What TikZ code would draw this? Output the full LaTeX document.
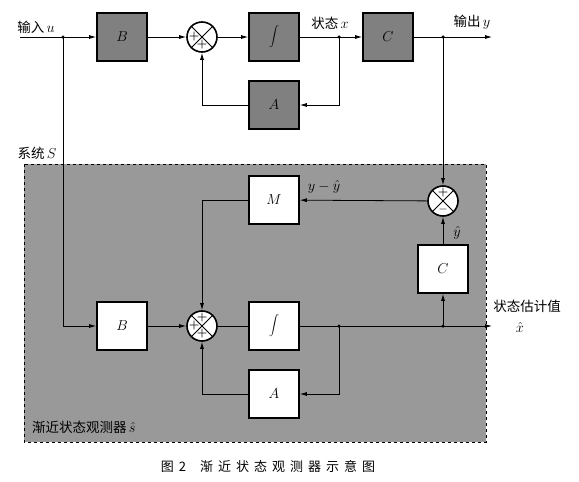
\documentclass[tikz,border=0pt]{standalone}
\usepackage{fontspec}
\newfontfamily\cjk{Noto Sans CJK SC}
\usetikzlibrary{arrows.meta,calc}
\begin{document}
\begin{tikzpicture}[x=1pt,y=-1pt,
  blk/.style={draw, line width=1.6pt, minimum width=50pt, minimum height=48pt, inner sep=0pt, font=\fontsize{14}{16}\selectfont},
  dark/.style={blk, fill=black!50},
  light/.style={blk, fill=white},
  sumc/.style={circle, draw, line width=1.6pt, fill=white, minimum size=30pt, inner sep=0pt},
  ln/.style={line width=0.8pt},
  arr/.style={ln, -{Latex[length=7pt,width=4pt]}},
  jdot/.style={circle, fill, inner sep=0pt, minimum size=3.5pt},
  lab/.style={font=\cjk\fontsize{13.5}{15}\selectfont, inner sep=0pt},
  sgn/.style={font=\fontsize{12}{12}\selectfont\bfseries, inner sep=0pt}]
\useasboundingbox (0,0) rectangle (579,482);
% observer background
\draw[dashed, line width=0.8pt, fill=black!40] (24,164) rectangle (486,442);

% top row
\coordinate (in) at (20,37);
\coordinate (j1) at (63,37);
\coordinate (jx) at (339,37);
\coordinate (jy) at (443,37);
\coordinate (out) at (492,37);
\node[dark] (B1) at (122,37) {$B$};
\node[sumc] (S1) at (202,37) {};
\node[dark] (I1) at (274,37) {$\displaystyle\int$};
\node[dark] (C1) at (388,37) {$C$};
\node[dark] (A1) at (274,105) {$A$};

% lower
\coordinate (jx2) at (339,326);
\coordinate (jy2) at (443,326);
\coordinate (out2) at (492,326);
\node[light] (M) at (274,200) {$M$};
\node[sumc] (D) at (443,201) {};
\node[light] (C2) at (443,269) {$C$};
\node[light] (B2) at (122,326) {$B$};
\node[sumc] (S2) at (202,326) {};
\node[light] (I2) at (274,326) {$\displaystyle\int$};
\node[light] (A2) at (274,394) {$A$};

% crosses and signs
\foreach \s in {S1,S2,D}{
  \draw[line width=0.9pt] (\s.north west) -- (\s.south east) (\s.north east) -- (\s.south west);
}
\node[sgn] at ($(S1)+(-8,0)$) {+};
\node[sgn] at ($(S1)+(0,8)$) {+};
\node[sgn] at ($(S2)+(-8,0)$) {+};
\node[sgn] at ($(S2)+(0,8)$) {+};
\node[sgn] at ($(S2)+(0,-8)$) {+};
\node[sgn] at ($(D)+(0,-8)$) {+};
\node[font=\fontsize{12}{12}\selectfont\bfseries, inner sep=0pt] at ($(D)+(0,8)$) {$-$};

% top connectors
\draw[arr] (in) -- (B1);
\draw[arr] (B1) -- (S1);
\draw[arr] (S1) -- (I1);
\draw[arr] (I1) -- (C1);
\draw[arr] (C1) -- (out);
\draw[arr] (jx) |- (A1);
\draw[arr] (A1) -| (S1);

% lower connectors
\draw[arr] (j1) |- (B2);
\draw[arr] (B2) -- (S2);
\draw[ln] (S2) -- (I2);
\draw[arr] (I2) -- (out2);
\draw[arr] (jx2) |- (A2);
\draw[arr] (A2) -| (S2);
\draw[arr] (jy2) -- (C2);
\draw[arr] (C2) -- (D);
\draw[arr] (jy) -- (D);
\draw[arr] (D) -- (M);
\draw[arr] (M) -| (S2);

% junction dots
\foreach \j in {j1,jx,jy,jx2,jy2}{ \node[jdot] at (\j) {}; }

% labels
\node[lab] at (36,27) {输入\,$u$};
\node[lab] at (330,23) {状态\,$x$};
\node[lab] at (472,22) {输出\,$y$};
\node[lab] at (37,153) {系统\,$S$};
\node[lab] at (324,187) {$y-\hat{y}$};
\node[lab] at (457,233) {$\hat{y}$};
\node[lab] at (527,306) {状态估计值};
\node[lab] at (520,327) {$\hat{x}$};
\node[lab, anchor=west] at (32,427) {渐近状态观测器\,$\hat{s}$};
\node[lab, font=\cjk\fontsize{13}{15}\selectfont] at (268,467) {图\hspace{5pt}2\hspace{14pt}渐\hspace{5pt}近\hspace{5pt}状\hspace{5pt}态\hspace{5pt}观\hspace{5pt}测\hspace{5pt}器\hspace{5pt}示\hspace{5pt}意\hspace{5pt}图};
\end{tikzpicture}
\end{document}
